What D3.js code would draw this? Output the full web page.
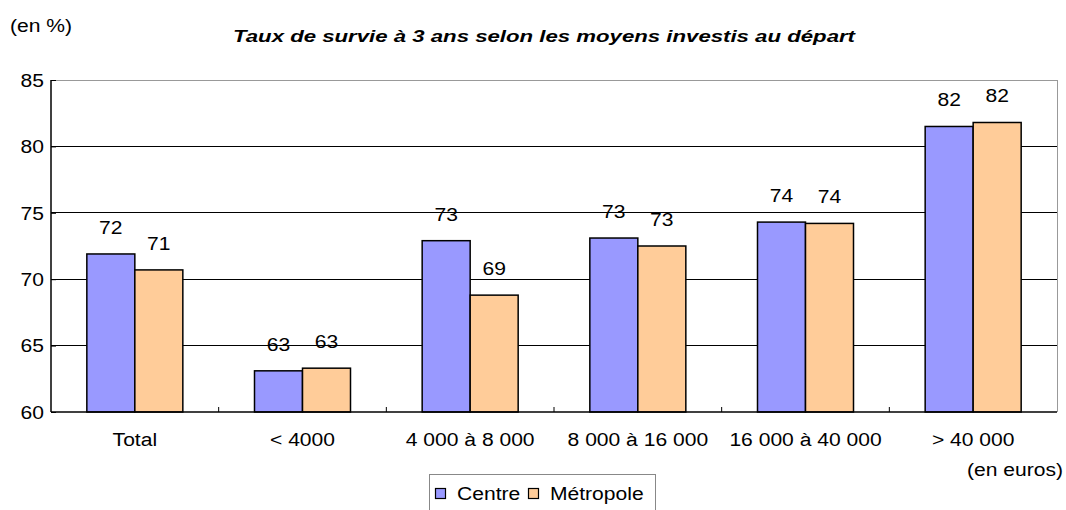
<!DOCTYPE html>
<html><head><meta charset="utf-8">
<script src="https://cdn.jsdelivr.net/npm/d3@7"></script>
<style>body{margin:0;background:#fff}svg{display:block;font-family:"Liberation Sans",Arial,sans-serif}</style>
</head><body><svg id="c" width="1066" height="510"></svg>
<script>
const categories = ["Total", "< 4000", "4 000 à 8 000", "8 000 à 16 000", "16 000 à 40 000", "> 40 000"];
const centre = [71.9, 63.1, 72.9, 73.1, 74.3, 81.5];
const metropole = [70.7, 63.3, 68.8, 72.5, 74.2, 81.8];
const centreLabels = ["72", "63", "73", "73", "74", "82"];
const metropoleLabels = ["71", "63", "69", "73", "74", "82"];
const yTicks = [60, 65, 70, 75, 80, 85];
const seriesNames = ["Centre", "Métropole"];
const colors = ["#9999ff", "#ffcc99"];

const svg = d3.select("#c");
const L = 51, R = 1057, T = 80, B = 412;
const x = d3.scaleBand().domain(categories).range([L, R]).paddingInner(0).paddingOuter(0);
const y = d3.scaleLinear().domain([60, 85]).range([B, T]);
const barW = 48;
const FS = 18, STRETCH = 1.17;
function stretch(sel) {
  sel.each(function () {
    const w = this.getComputedTextLength();
    d3.select(this).attr("textLength", w * STRETCH).attr("lengthAdjust", "spacingAndGlyphs");
  });
}

// gridlines
svg.append("g").selectAll("line").data(yTicks.filter(d => d > 60)).join("line")
  .attr("x1", L).attr("x2", R).attr("y1", d => y(d)).attr("y2", d => y(d))
  .attr("stroke", d => d === 85 ? "#999" : "#000").attr("stroke-width", 1).attr("shape-rendering", "crispEdges");
svg.append("line").attr("x1", R).attr("x2", R).attr("y1", T).attr("y2", B).attr("stroke", "#999").attr("shape-rendering", "crispEdges");

// y axis
const yAxis = d3.axisLeft(y).tickValues(yTicks).tickSize(5).tickFormat(d3.format("d"));
const ga = svg.append("g").attr("transform", `translate(${L},0)`).call(yAxis);
ga.select(".domain").attr("stroke", "#000").attr("stroke-width", 1.5).attr("d", `M0,${T}V${B}`);
ga.selectAll(".tick line").attr("x2", 5).attr("stroke", "#000");
ga.selectAll(".tick text").attr("x", -7).attr("font-size", FS).attr("fill", "#000")
  .attr("font-family", "Liberation Sans, Arial, sans-serif").attr("dy", "0.35em").call(stretch);

// bars
const series = [centre, metropole];
const labels = [centreLabels, metropoleLabels];
series.forEach((vals, s) => {
  const g = svg.append("g");
  g.selectAll("rect").data(categories).join("rect")
    .attr("x", c => x(c) + x.bandwidth() / 2 - barW + s * barW)
    .attr("y", (c, i) => y(vals[i]))
    .attr("width", barW)
    .attr("height", (c, i) => y(60) - y(vals[i]))
    .attr("fill", colors[s]).attr("stroke", "#000").attr("stroke-width", 1.5);
  g.selectAll("text").data(categories).join("text")
    .attr("x", c => x(c) + x.bandwidth() / 2 - barW / 2 + s * barW)
    .attr("y", (c, i) => y(vals[i]) - 20)
    .attr("text-anchor", "middle").attr("font-size", FS).attr("fill", "#000")
    .text((c, i) => labels[s][i]).call(stretch);
});

// x axis
const xAxis = d3.axisBottom(x).tickSize(0).tickPadding(0);
const gx = svg.append("g").attr("transform", `translate(0,${B})`).call(xAxis);
gx.select(".domain").remove();
gx.selectAll(".tick text").attr("y", 34).attr("dy", 0).attr("font-size", FS).attr("fill", "#000")
  .attr("font-family", "Liberation Sans, Arial, sans-serif").call(stretch);
svg.append("line").attr("x1", L).attr("x2", R).attr("y1", B).attr("y2", B).attr("stroke", "#000").attr("stroke-width", 1.5);
svg.append("g").selectAll("line").data(categories.slice(1)).join("line")
  .attr("x1", c => x(c)).attr("x2", c => x(c)).attr("y1", B).attr("y2", B - 5).attr("stroke", "#000");

// texts
svg.append("text").attr("x", 10).attr("y", 32).attr("font-size", FS).text("(en %)").call(stretch);
svg.append("text").attr("x", 233).attr("y", 42).attr("font-size", 16.5).attr("font-weight", "bold").attr("font-style", "italic")
  .attr("textLength", 622).attr("lengthAdjust", "spacingAndGlyphs")
  .text("Taux de survie à 3 ans selon les moyens investis au départ");
svg.append("text").attr("x", 1063).attr("y", 476).attr("text-anchor", "end").attr("font-size", FS).text("(en euros)").call(stretch);

// legend
const lg = svg.append("g");
lg.append("rect").attr("x", 429.5).attr("y", 474.5).attr("width", 226).attr("height", 40).attr("fill", "#fff").attr("stroke", "#888");
const lx = [435, 528];
seriesNames.forEach((n, i) => {
  lg.append("rect").attr("x", lx[i] + 0.5).attr("y", 488.5).attr("width", 10).attr("height", 10).attr("fill", colors[i]).attr("stroke", "#000").attr("stroke-width", 1.2);
  lg.append("text").attr("x", lx[i] + 22).attr("y", 500).attr("font-size", FS).text(n).call(stretch);
});
</script></body></html>
